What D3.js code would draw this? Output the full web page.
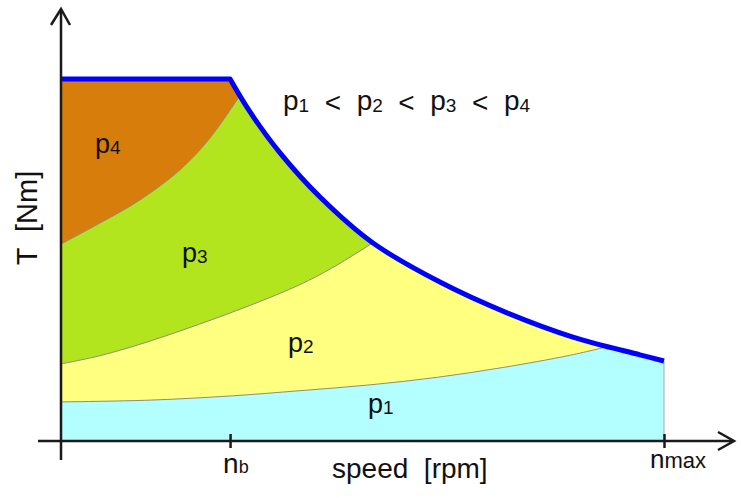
<!DOCTYPE html>
<html>
<head>
<meta charset="utf-8">
<script src="https://cdn.jsdelivr.net/npm/d3@7"></script>
<style>
  html, body { margin: 0; padding: 0; background: #fff; }
  svg text { font-family: "Liberation Sans", Arial, sans-serif; fill: #111; white-space: pre; }
</style>
</head>
<body>
<svg id="chart" width="741" height="498"></svg>
<script>
// ---- data (speed in rpm, torque in % of T max) ----
const nBase = 1500;
const nMax = 5350;
const tickSpeeds = [nBase, nMax];
const tickNames = ["n", "n"];
const tickSubs = ["b", "max"];

// maximum torque envelope (constant torque up to nb, then field weakening)
const envSpeed  = [0, 1500, 1677, 1943, 2298, 2768, 3362, 3957, 4542, 5137, 5350];
const envTorque = [100, 100, 90.9, 79.6, 67.4, 54.7, 43.9, 35.4, 28.7, 23.8, 22.1];

// iso-power-loss boundaries (lower edge of each region)
const p2Speed  = [0, 800, 1530, 2120, 2740, 3340, 3920, 4520, 4880];
const p2Torque = [10.8, 11.3, 12.5, 13.9, 15.5, 17.6, 20.3, 23.7, 26.3];
const p3Speed  = [0, 350, 790, 1230, 1680, 2120, 2410, 2780];
const p3Torque = [21.3, 23.6, 27.6, 32.3, 37.5, 43.2, 47.9, 55.0];
const p4Speed  = [0, 346, 701, 1056, 1322, 1590];
const p4Torque = [54.4, 60.2, 66.6, 74.9, 83.7, 95.6];

const regionNames = ["p", "p", "p", "p"];
const regionSubs = ["1", "2", "3", "4"];
const regionLabelSpeed  = [2724, 2014, 1073, 302];
const regionLabelTorque = [7.6, 24.6, 49.4, 79.5];
const regionColors = ["#b3ffff", "#ffff80", "#b3e51f", "#d77d0b"];

const orderText = "p1 < p2 < p3 < p4";
const xTitle = "speed  [rpm]";
const yTitle = "T  [Nm]";

// ---- scales ----
const svg = d3.select("#chart");
const x = d3.scaleLinear().domain([0, nMax]).range([61, 664]);
const y = d3.scaleLinear().domain([0, 100]).range([441, 79]);
const zip = (a, b) => a.map((v, i) => [v, b[i]]);
const smooth = d3.curveCatmullRom.alpha(0.5);

const env = zip(envSpeed, envTorque);
const curveLine = d3.line().x(d => x(d[0])).y(d => y(d[1])).curve(smooth);
const descPath = curveLine(env.slice(1));
const envLinePath = `M${x(env[0][0])},${y(env[0][1])}L` + descPath.slice(1);
const envFillPath = `M${x(0)},${y(0)}L${x(env[0][0])},${y(env[0][1])}L` + descPath.slice(1) +
  `L${x(nMax)},${y(0)}Z`;

const defs = svg.append("defs");
defs.append("clipPath").attr("id", "envClip").append("path").attr("d", envFillPath);

// base region (p1)
svg.append("path").attr("d", envFillPath).attr("fill", regionColors[0])
  .attr("stroke", "#a8a8a8").attr("stroke-width", 1);

const regions = svg.append("g").attr("clip-path", "url(#envClip)");
const bounds = [zip(p2Speed, p2Torque), zip(p3Speed, p3Torque), zip(p4Speed, p4Torque)];
const area = d3.area().x(d => x(d[0])).y0(d => y(d[1])).y1(y(130)).curve(smooth);
bounds.forEach((b, i) => {
  regions.append("path").attr("d", area(b)).attr("fill", regionColors[i + 1]);
});
bounds.forEach(b => {
  regions.append("path").attr("d", curveLine(b)).attr("fill", "none")
    .attr("stroke", "#8c8c7c").attr("stroke-width", 1);
});

// envelope
svg.append("path").attr("d", envLinePath).attr("fill", "none")
  .attr("stroke", "#0000ff").attr("stroke-width", 5).attr("stroke-linejoin", "round");

// ---- axes ----
const axisColor = "#1a1a1a";
svg.append("line").attr("x1", 38).attr("x2", 733).attr("y1", y(0)).attr("y2", y(0))
  .attr("stroke", axisColor).attr("stroke-width", 2.5);
svg.append("path").attr("d", `M718,432L734,${y(0)}L718,450`).attr("fill", "none")
  .attr("stroke", axisColor).attr("stroke-width", 2.5);
svg.append("line").attr("x1", x(0)).attr("x2", x(0)).attr("y1", 460).attr("y2", 11)
  .attr("stroke", axisColor).attr("stroke-width", 2.5);
svg.append("path").attr("d", `M51,25L${x(0)},9L70,25`).attr("fill", "none")
  .attr("stroke", axisColor).attr("stroke-width", 2.5);

const xAxis = d3.axisBottom(x).tickValues(tickSpeeds).tickSize(7).tickSizeOuter(0).tickFormat("");
const gx = svg.append("g").attr("transform", `translate(0,${y(0)})`).call(xAxis);
gx.select(".domain").remove();
gx.selectAll(".tick line").attr("y1", -7).attr("stroke", axisColor).attr("stroke-width", 2.5);

// tick labels with subscripts
const tickLabelCfg = [
  { dx: -7, y: 473, fb: 28, fs: 18, sdy: 0 },
  { dx: -14, y: 468, fb: 26, fs: 22, sdy: 0 }
];
tickSpeeds.forEach((s, i) => {
  const c = tickLabelCfg[i];
  const t = svg.append("text").attr("x", x(s) + c.dx).attr("y", c.y);
  t.append("tspan").style("font-size", c.fb + "px").text(tickNames[i]);
  t.append("tspan").style("font-size", c.fs + "px").attr("dy", c.sdy).text(tickSubs[i]);
});

// axis titles
svg.append("text").attr("x", 332).attr("y", 478).style("font-size", "28px").text(xTitle);
svg.append("text").attr("transform", "translate(37,218) rotate(-90)")
  .attr("text-anchor", "middle").style("font-size", "29px").text(yTitle);

// region labels
regionNames.forEach((nm, i) => {
  const t = svg.append("text").attr("x", x(regionLabelSpeed[i])).attr("y", y(regionLabelTorque[i]));
  t.append("tspan").style("font-size", "27px").text(nm);
  t.append("tspan").style("font-size", "19px").attr("dy", 1).text(regionSubs[i]);
});

// order annotation
const parts = orderText.split(" < ");
const ot = svg.append("text").attr("x", 283).attr("y", 110);
parts.forEach((p, i) => {
  ot.append("tspan").style("font-size", "28px").attr("dy", i === 0 ? 0 : -2).text(p[0]);
  ot.append("tspan").style("font-size", "19px").attr("dy", 2).text(p.slice(1));
  if (i < parts.length - 1) ot.append("tspan").style("font-size", "28px").attr("dy", 0).text("  <  ");
});
</script>
</body>
</html>
